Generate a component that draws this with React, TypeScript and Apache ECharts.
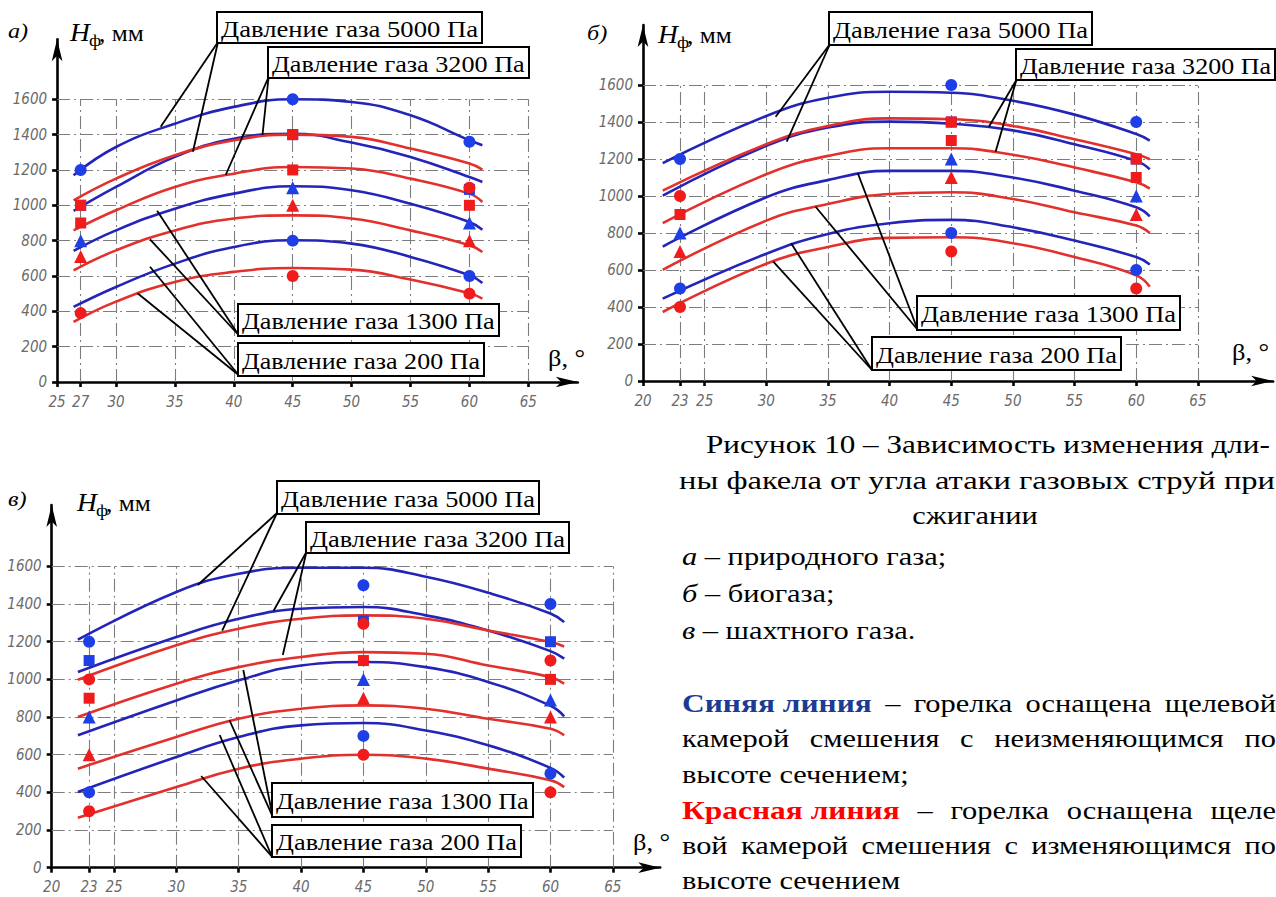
import React, { useEffect, useRef } from 'react';
import * as echarts from 'echarts';

// ---------------- DATA ----------------
const Y_TICKS = [0, 200, 400, 600, 800, 1000, 1200, 1400, 1600];
const A_XTICKS = [25, 27, 30, 35, 40, 45, 50, 55, 60, 65];
const BC_XTICKS = [20, 23, 25, 30, 35, 40, 45, 50, 55, 60, 65];

// Panel а – природный газ
const A_X = [26.4, 30, 35, 40, 45, 50, 55, 60, 61.1];
const A_B5000 = [1170, 1330, 1462, 1557, 1600, 1585, 1509, 1368, 1340];
const A_B3200 = [968, 1104, 1274, 1377, 1405, 1355, 1274, 1160, 1132];
const A_R5000 = [1028, 1151, 1283, 1368, 1400, 1387, 1321, 1236, 1202];
const A_R3200 = [858, 972, 1104, 1179, 1217, 1208, 1151, 1066, 1019];
const A_B1300 = [742, 858, 981, 1066, 1108, 1085, 1009, 906, 862];
const A_R1300 = [632, 745, 858, 925, 943, 925, 858, 774, 736];
const A_B200 = [425, 538, 670, 764, 802, 783, 708, 604, 560];
const A_R200 = [340, 455, 566, 623, 645, 636, 580, 502, 472];

const A_BLUE_CIRCLE = [[27, 1200], [45, 1600], [60, 1360], [45, 800], [60, 600]];
const A_BLUE_SQUARE = [[27, 1000], [45, 1400], [60, 1090]];
const A_BLUE_TRI = [[27, 800], [45, 1100], [60, 900]];
const A_RED_CIRCLE = [[27, 390], [45, 600], [60, 500], [60, 1100]];
const A_RED_SQUARE = [[27, 1000], [27, 900], [45, 1400], [45, 1200], [60, 1000]];
const A_RED_TRI = [[27, 710], [45, 1000], [60, 800]];

// Panel б – биогаз
const B_X = [21.6, 30, 35, 40, 45, 50, 55, 60, 61.1];
const B_B5000 = [1178, 1433, 1531, 1564, 1558, 1515, 1440, 1335, 1300];
const B_R5000 = [1029, 1280, 1379, 1420, 1415, 1379, 1307, 1226, 1199];
const B_B3200 = [1002, 1271, 1370, 1402, 1391, 1355, 1280, 1190, 1145];
const B_R3200 = [853, 1118, 1217, 1258, 1258, 1223, 1154, 1074, 1040];
const B_B1300 = [727, 993, 1086, 1136, 1136, 1100, 1029, 939, 890];
const B_R1300 = [601, 867, 957, 1011, 1020, 984, 912, 840, 800];
const B_B200 = [445, 688, 795, 853, 871, 831, 759, 670, 630];
const B_R200 = [373, 634, 724, 774, 777, 745, 670, 571, 510];

const B_BLUE_CIRCLE = [[23, 1200], [45, 1600], [60, 1400], [23, 500], [45, 800], [60, 600]];
const B_BLUE_SQUARE = [[45, 1400], [60, 1200]];
const B_BLUE_TRI = [[23, 800], [45, 1200], [60, 1000]];
const B_RED_CIRCLE = [[23, 1000], [23, 400], [45, 700], [60, 500]];
const B_RED_SQUARE = [[23, 900], [45, 1400], [45, 1300], [60, 1200], [60, 1100]];
const B_RED_TRI = [[23, 700], [45, 1100], [60, 900]];

// Panel в – шахтный газ
const C_X = [22.1, 30, 35, 40, 45, 50, 55, 60, 61.1];
const C_B5000 = [1211, 1464, 1561, 1593, 1593, 1545, 1460, 1350, 1304];
const C_B3200 = [1039, 1225, 1322, 1375, 1384, 1340, 1260, 1150, 1110];
const C_R5000 = [998, 1181, 1269, 1322, 1340, 1322, 1260, 1198, 1175];
const C_R3200 = [800, 977, 1065, 1119, 1145, 1136, 1074, 1012, 977];
const C_B1300 = [703, 888, 995, 1074, 1092, 1065, 986, 860, 804];
const C_R1300 = [526, 694, 791, 844, 862, 844, 791, 738, 703];
const C_B200 = [402, 588, 694, 756, 768, 729, 650, 530, 478];
const C_R200 = [265, 428, 526, 579, 600, 579, 526, 464, 428];

const C_BLUE_CIRCLE = [[23, 1200], [45, 1500], [60, 1400], [23, 400], [45, 700], [60, 500]];
const C_BLUE_SQUARE = [[23, 1100], [45, 1310], [60, 1200]];
const C_BLUE_TRI = [[23, 800], [45, 1000], [60, 890]];
const C_RED_CIRCLE = [[23, 1000], [45, 1295], [60, 1100], [23, 300], [45, 600], [60, 400]];
const C_RED_SQUARE = [[23, 900], [45, 1100], [60, 1000]];
const C_RED_TRI = [[23, 600], [45, 900], [60, 800]];

// ---------------- STYLE ----------------
const BLUE_LINE = '#2424b8';
const RED_LINE = '#e2302c';
const BLUE_MARK = '#1f3fe6';
const RED_MARK = '#f01c1c';
const GRID_COLOR = '#7d7d7d';
const SERIF = "'Liberation Serif', 'Times New Roman', serif";
const AXISFONT = "'Liberation Sans Narrow', 'DejaVu Sans Condensed', 'Liberation Sans', sans-serif";
const CF = 26; // caption font size
const CS = 1.17; // caption horizontal scale
const CSB = 1.21; // bold caption scale

function measure(text: string, font: string): number {
  const c = document.createElement('canvas').getContext('2d');
  if (!c) return text.length * 10;
  c.font = font;
  return c.measureText(text).width;
}

function fontStr(size: number, opts: any = {}) {
  return `${opts.style || 'normal'} ${opts.weight || 'normal'} ${size}px ${opts.family || SERIF}`;
}

function txt(text: string, x: number, y: number, size: number, width: number | null, opts: any = {}) {
  const weight = opts.weight || 'normal';
  const style = opts.style || 'normal';
  const fam = opts.family || SERIF;
  const w = measure(text, fontStr(size, opts));
  const sx = width ? width / w : (opts.scale || 1);
  return {
    type: 'text',
    x,
    y,
    scaleX: sx,
    z: 100,
    style: {
      text,
      fontSize: size,
      fontFamily: fam,
      fontWeight: weight,
      fontStyle: style,
      fill: opts.fill || '#000',
      textAlign: 'left',
      textVerticalAlign: 'middle',
    },
  };
}

function cw(text: string, x: number, y: number, opts: any = {}) {
  return txt(text, x, y, CF, null, { scale: CS, ...opts });
}
function cwEnd(text: string, x: number, xEnd: number, y: number, opts: any = {}) {
  return txt(text, x, y, CF, xEnd - x, opts);
}
// justified line: words spread between x0 and x1
function justify(words: any[], x0: number, x1: number, y: number) {
  const items = words.map((w) => {
    const o = typeof w === 'string' ? { t: w } : w;
    const sc = o.weight === 'bold' ? CSB : CS;
    return { ...o, sc, w: measure(o.t, fontStr(CF, o)) * sc };
  });
  const total = items.reduce((s, it) => s + it.w, 0);
  const gap = (x1 - x0 - total) / (items.length - 1);
  const out: any[] = [];
  let x = x0;
  items.forEach((it) => {
    out.push(txt(it.t, x, y, CF, null, { scale: it.sc, weight: it.weight, fill: it.fill, style: it.style }));
    x += it.w + gap;
  });
  return out;
}

type Geo = { left: number; top: number; width: number; height: number; xMin: number; xMax: number; yMax: number };

function buildPanel(idx: number, geo: Geo, xTicks: number[], gridX: number[], xs: number[],
  blues: number[][], reds: number[][], marks: any) {
  const grid = {
    left: geo.left, top: geo.top, width: geo.width, height: geo.height,
    containLabel: false, outerBoundsMode: 'none',
  };
  const xAxis = {
    type: 'value', gridIndex: idx, min: geo.xMin, max: geo.xMax,
    splitLine: { show: false },
    axisLine: { show: true, onZero: false, symbol: ['none', 'arrow'], symbolSize: [8, 22], lineStyle: { color: '#000', width: 2.6 } },
    axisTick: { show: true, customValues: xTicks, length: 5, lineStyle: { color: '#000', width: 2.6 } },
    axisLabel: { customValues: xTicks, formatter: (v: number) => String(v), color: '#6a6a6a', fontStyle: 'italic', fontFamily: AXISFONT, fontSize: 15, margin: 12 },
  };
  const yAxis = {
    type: 'value', gridIndex: idx, min: 0, max: geo.yMax,
    splitLine: { show: false },
    axisLine: { show: true, onZero: false, symbol: ['none', 'arrow'], symbolSize: [8, 22], lineStyle: { color: '#000', width: 2.6 } },
    axisTick: { show: true, customValues: Y_TICKS, length: 5, lineStyle: { color: '#000', width: 2.6 } },
    axisLabel: { customValues: Y_TICKS, formatter: (v: number) => String(v), color: '#6a6a6a', fontStyle: 'italic', fontFamily: AXISFONT, fontSize: 15, margin: 10 },
  };
  const gridLines: any[] = [];
  gridX.forEach((x) => gridLines.push({ coords: [[x, 0], [x, 1600]] }));
  Y_TICKS.filter((v) => v > 0).forEach((v) => gridLines.push({ coords: [[geo.xMin, v], [65, v]] }));
  const series: any[] = [
    {
      type: 'lines', coordinateSystem: 'cartesian2d', xAxisIndex: idx, yAxisIndex: idx, silent: true, z: 1,
      lineStyle: { color: GRID_COLOR, width: 1.1, type: [13, 4, 2, 4], opacity: 1 },
      data: gridLines,
    },
  ];
  const mkLine = (vals: number[], color: string) => ({
    type: 'line', xAxisIndex: idx, yAxisIndex: idx, smooth: 0.45, showSymbol: false, symbol: 'none', z: 3, silent: true,
    lineStyle: { color, width: 2.6 },
    data: xs.map((x, j) => [x, vals[j]]),
  });
  blues.forEach((b) => series.push(mkLine(b, BLUE_LINE)));
  reds.forEach((r) => series.push(mkLine(r, RED_LINE)));
  const mkScatter = (data: number[][], symbol: string, color: string, size: number, z: number) => ({
    type: 'scatter', xAxisIndex: idx, yAxisIndex: idx, symbol, symbolSize: size, z, silent: true,
    itemStyle: { color, opacity: 1 },
    data,
  });
  series.push(mkScatter(marks.bc, 'circle', BLUE_MARK, 12, 4));
  series.push(mkScatter(marks.bs, 'rect', BLUE_MARK, 11, 4));
  series.push(mkScatter(marks.bt, 'triangle', BLUE_MARK, 13, 4));
  series.push(mkScatter(marks.rc, 'circle', RED_MARK, 12, 5));
  series.push(mkScatter(marks.rs, 'rect', RED_MARK, 11, 5));
  series.push(mkScatter(marks.rt, 'triangle', RED_MARK, 13, 5));
  return { grid, xAxis, yAxis, series };
}

function box(label: string, x1: number, y1: number, x2: number, y2: number) {
  const midY = (y1 + y2) / 2;
  return [
    { type: 'rect', z: 90, shape: { x: x1, y: y1, width: x2 - x1, height: y2 - y1 }, style: { fill: '#fff', stroke: '#000', lineWidth: 2 } },
    txt(label, x1 + 4, midY + 1, 24, x2 - x1 - 8),
  ];
}

function leader(x1: number, y1: number, x2: number, y2: number) {
  return { type: 'line', z: 80, shape: { x1, y1, x2, y2 }, style: { stroke: '#000', lineWidth: 1.8 } };
}

function axisTitles(lx: number, ly: number, letter: string, hx: number, hy: number, bx: number, by: number) {
  return [
    txt(letter, lx, ly, 22, null, { style: 'italic', scale: 1.1 }),
    txt('H', hx, hy, 25, null, { style: 'italic', scale: 1.1 }),
    txt('ф', hx + 19, hy + 7, 17, null, { scale: 1.1 }),
    txt(', мм', hx + 29, hy, 23, null, { scale: 1.1 }),
    txt('β, °', bx, by, 24, null, { scale: 1.1 }),
  ];
}

export default function App() {
  const ref = useRef<HTMLDivElement>(null);
  useEffect(() => {
    if (!ref.current) return;
    const chart = echarts.init(ref.current, null, { renderer: 'svg' });

    const pa = buildPanel(0,
      { left: 57.1, top: 39.2, width: 520.7, height: 342.8, xMin: 25, xMax: 69.2, yMax: 1940 },
      A_XTICKS, [27, 30, 35, 40, 45, 50, 55, 60, 65], A_X,
      [A_B5000, A_B3200, A_B1300, A_B200], [A_R5000, A_R3200, A_R1300, A_R200],
      { bc: A_BLUE_CIRCLE, bs: A_BLUE_SQUARE, bt: A_BLUE_TRI, rc: A_RED_CIRCLE, rs: A_RED_SQUARE, rt: A_RED_TRI });
    const pb = buildPanel(1,
      { left: 643, top: 25.1, width: 630.1, height: 355.9, xMin: 20, xMax: 71.1, yMax: 1924 },
      BC_XTICKS, [23, 25, 30, 35, 40, 45, 50, 55, 60, 65], B_X,
      [B_B5000, B_B3200, B_B1300, B_B200], [B_R5000, B_R3200, B_R1300, B_R200],
      { bc: B_BLUE_CIRCLE, bs: B_BLUE_SQUARE, bt: B_BLUE_TRI, rc: B_RED_CIRCLE, rs: B_RED_SQUARE, rt: B_RED_TRI });
    const pc = buildPanel(2,
      { left: 51.7, top: 505, width: 608.5, height: 362.7, xMin: 20, xMax: 68.8, yMax: 1926 },
      BC_XTICKS, [23, 25, 30, 35, 40, 45, 50, 55, 60, 65], C_X,
      [C_B5000, C_B3200, C_B1300, C_B200], [C_R5000, C_R3200, C_R1300, C_R200],
      { bc: C_BLUE_CIRCLE, bs: C_BLUE_SQUARE, bt: C_BLUE_TRI, rc: C_RED_CIRCLE, rs: C_RED_SQUARE, rt: C_RED_TRI });

    const graphic: any[] = [];
    // panel а annotations
    graphic.push(leader(218, 42, 160.7, 126.7), leader(218, 42, 192.9, 151.7));
    graphic.push(leader(268.6, 77, 262.5, 135), leader(268.6, 77, 225.7, 175));
    graphic.push(leader(238.6, 335, 157.1, 210.7), leader(238.6, 335, 150, 239.3));
    graphic.push(leader(238.6, 375, 150, 266.7), leader(238.6, 375, 137.5, 293.3));
    graphic.push(...box('Давление газа 5000 Па', 217, 12, 482, 43));
    graphic.push(...box('Давление газа 3200 Па', 268, 47, 529, 78));
    graphic.push(...box('Давление газа 1300 Па', 238, 304, 499, 336));
    graphic.push(...box('Давление газа 200 Па', 238, 343, 484, 376));
    // panel б annotations
    graphic.push(leader(830, 44, 775.6, 116.7), leader(830, 44, 786.7, 141.7));
    graphic.push(leader(1016.4, 80, 988.9, 126.7), leader(1016.4, 80, 995.6, 151.7));
    graphic.push(leader(917.8, 330, 857.8, 173.3), leader(917.8, 330, 815.6, 206.7));
    graphic.push(leader(872, 370, 791.1, 243.3), leader(872, 370, 773.3, 261.7));
    graphic.push(...box('Давление газа 5000 Па', 829, 12, 1092, 45));
    graphic.push(...box('Давление газа 3200 Па', 1016, 49, 1275, 80));
    graphic.push(...box('Давление газа 1300 Па', 917, 296, 1180, 330));
    graphic.push(...box('Давление газа 200 Па', 872, 337, 1121, 370));
    // panel в annotations
    graphic.push(leader(277, 513, 197.8, 585), leader(277, 513, 222.2, 630.7));
    graphic.push(leader(306.4, 552, 273.6, 610.7), leader(306.4, 552, 282.8, 655));
    graphic.push(leader(272.7, 816.7, 243.3, 670), leader(272.7, 816.7, 229.4, 720));
    graphic.push(leader(272, 856.7, 219.7, 735), leader(272, 856.7, 201.2, 776));
    graphic.push(...box('Давление газа 5000 Па', 277, 481, 539, 514));
    graphic.push(...box('Давление газа 3200 Па', 306, 522, 569, 553));
    graphic.push(...box('Давление газа 1300 Па', 272, 783, 533, 817));
    graphic.push(...box('Давление газа 200 Па', 272, 825, 521, 857));

    graphic.push(...axisTitles(8, 30, 'а)', 70, 33, 548, 358));
    graphic.push(...axisTitles(587, 32, 'б)', 658, 35, 1232, 352));
    graphic.push(...axisTitles(8, 498, 'в)', 77, 503, 633, 842));

    // caption block
    const L = 682;
    const R = 1276;
    graphic.push(cwEnd('Рисунок 10 – Зависимость изменения дли-', 706, 1270, 444));
    graphic.push(cwEnd('ны факела от угла атаки газовых струй при', 679, 1275, 480));
    const wS = measure('сжигании', fontStr(CF)) * CS;
    graphic.push(cw('сжигании', 975 - wS / 2, 515));
    const listItem = (letter: string, rest: string, y: number) => {
      const wl = measure(letter + ' ', fontStr(CF, { style: 'italic' })) * CS;
      graphic.push(cw(letter, L, y, { style: 'italic' }));
      graphic.push(cw('– ' + rest, L + wl, y));
    };
    listItem('а', 'природного газа;', 556);
    listItem('б', 'биогаза;', 593);
    listItem('в', 'шахтного газа.', 630);

    graphic.push(...justify([{ t: 'Синяя линия', weight: 'bold', fill: '#1c3c94' }, '–', 'горелка', 'оснащена', 'щелевой'], L, R, 703));
    graphic.push(...justify(['камерой', 'смешения', 'с', 'неизменяющимся', 'по'], L, R, 738));
    graphic.push(cw('высоте сечением;', L, 774));
    graphic.push(...justify([{ t: 'Красная линия', weight: 'bold', fill: '#ff0000' }, '–', 'горелка', 'оснащена', 'щеле'], L, R, 810));
    graphic.push(...justify(['вой', 'камерой', 'смешения', 'с', 'изменяющимся', 'по'], L, R, 845));
    graphic.push(cw('высоте сечением', L, 880));

    const option: any = {
      animation: false,
      backgroundColor: '#ffffff',
      grid: [pa.grid, pb.grid, pc.grid],
      xAxis: [pa.xAxis, pb.xAxis, pc.xAxis],
      yAxis: [pa.yAxis, pb.yAxis, pc.yAxis],
      series: [...pa.series, ...pb.series, ...pc.series],
      graphic,
    };
    chart.setOption(option);
    return () => chart.dispose();
  }, []);
  return <div ref={ref} style={{ position: 'fixed', left: 0, top: 0, width: 1276, height: 897, overflow: 'hidden' }} />;
}
